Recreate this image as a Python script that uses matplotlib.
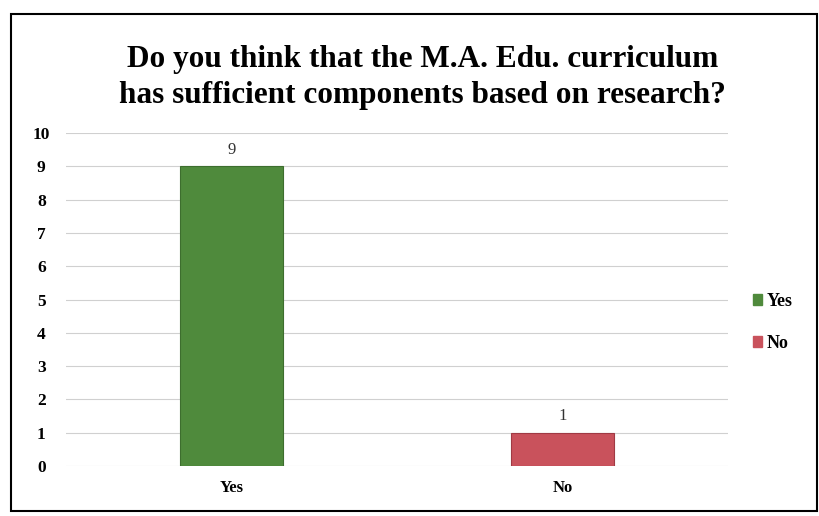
import matplotlib.pyplot as plt
from matplotlib.patches import Rectangle

categories = ["Yes", "No"]
values = [9, 1]
colors = ["#4f8a3c", "#c9525c"]
yticks = list(range(0, 11))

plt.rcParams['font.family'] = ['Liberation Serif', 'DejaVu Serif']

fig = plt.figure(figsize=(8.19, 5.16), dpi=100)
ax = fig.add_axes([0.081, 0.097, 0.808, 0.645])

bars = ax.bar(range(len(categories)), values, width=0.31, color=colors,
              edgecolor=["#3d6e2e", "#a03a44"], linewidth=0.8, zorder=3)
for b, v in zip(bars, values):
    ax.text(b.get_x() + b.get_width() / 2, v + 0.25, str(v), ha="center",
            va="bottom", fontsize=12, color="#333333")

ax.set_ylim(0, 10)
ax.set_xlim(-0.5, 1.5)
ax.set_yticks(yticks)
ax.set_yticklabels([str(t) for t in yticks], fontsize=12.5, fontweight="bold")
ax.set_xticks(range(len(categories)))
ax.set_xticklabels(categories, fontsize=12, fontweight="bold")
ax.tick_params(length=0, pad=18)
ax.tick_params(axis="x", pad=10)
ax.yaxis.grid(True, color="#d0d0d0", linewidth=0.8, zorder=0)
for s in ax.spines.values():
    s.set_visible(False)
for t in ax.get_yticklabels():
    t.set_horizontalalignment("center")

handles = [Rectangle((0, 0), 1, 1, color=c) for c in colors]
leg = fig.legend(handles, categories, loc="center left", bbox_to_anchor=(0.899, 0.375),
                 frameon=False, fontsize=13, handlelength=0.55, handleheight=0.55,
                 handletextpad=0.25, labelspacing=1.4)
for t in leg.get_texts():
    t.set_fontweight("bold")

fig.text(0.516, 0.85, "Do you think that the M.A. Edu. curriculum\nhas sufficient components based on research?",
         ha="center", va="center", fontsize=22.5, fontweight="bold", linespacing=1.35)

fig.patches.append(Rectangle((0.013, 0.01), 0.985, 0.962, transform=fig.transFigure,
                             fill=False, edgecolor="black", linewidth=1.5))

fig.savefig("out.png", dpi=100)
